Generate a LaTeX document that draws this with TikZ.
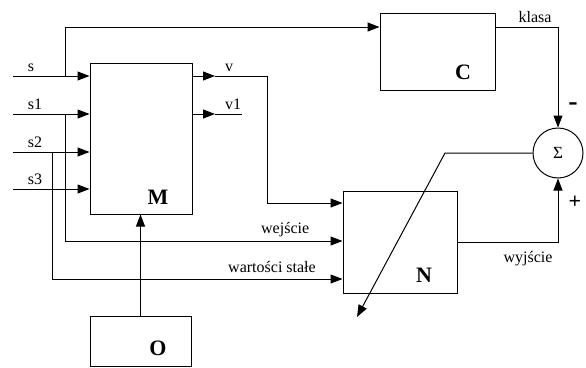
\documentclass[tikz,border=0pt]{standalone}
\usepackage{fontspec}
\setmainfont{Liberation Serif}
\usetikzlibrary{arrows.meta, positioning}

\begin{document}
\begin{tikzpicture}[x=1pt, y=-1pt, line width=1pt,
  every node/.style={font=\fontsize{16}{18}\selectfont},
  block/.style={draw, rectangle, inner sep=0pt},
  tag/.style={font=\fontsize{22}{24}\selectfont\bfseries},
  arr/.style={-{Triangle[length=12pt, width=9pt]}}]
\useasboundingbox (0,0) rectangle (586,367);
% Blocks M, C, N, O and the summing node
\node[block, minimum width=102pt, minimum height=151pt] (M) at (141,138.5) {};
\node[block, minimum width=115pt, minimum height=77pt] (C) at (437.5,51.5) {};
\node[block, minimum width=114pt, minimum height=102pt] (N) at (400,242) {};
\node[block, minimum width=101pt, minimum height=50pt] (O) at (140.5,341) {};
\node[draw, circle, minimum size=50pt, inner sep=0pt, font=\fontsize{17}{18}\selectfont] (S) at (558,153) {Σ};
\node[tag] (Mlab) at (158,197) {M};
\node[tag] (Clab) at (463,72) {C};
\node[tag] (Nlab) at (424,275) {N};
\node[tag] (Olab) at (158,348) {O};
% Inputs s, s1, s2, s3 of M
\foreach \y/\name in {76/s, 114/s1, 152/s2, 189/s3} {
  \coordinate (\name) at (13,\y);
  \draw[arr] (\name) -- (\name -| M.west);
  \node[anchor=base west] at (24,\y-5) {\name};
}
% s goes also to C
\draw[arr] (65,76) |- (C.west |- 0,27);
% Outputs v, v1 of M
\coordinate (v1end) at (242,114);
\draw[arr] (M.east |- 0,76) -- (215,76);
\draw[arr] (215,76) -- (267,76) |- (N.west |- 0,203);
\draw[arr] (M.east |- 0,114) -- (215,114);
\draw (215,114) -- (v1end);
\node[anchor=base] at (229,71) {v};
\node[anchor=base] at (233,109) {v1};
% s1 and s2 go to N
\draw[arr] (65,114) |- (N.west |- 0,241);
\node[anchor=base east] at (313,233) {wejście};
\draw[arr] (52,152) |- (N.west |- 0,279);
\node[anchor=base] at (272,272) {wartości stałe};
% O feeds M
\draw[arr] (O.north) -- (O.north |- M.south);
% C and N into the sum
\draw[arr] (C.east |- 0,27) -| (S.north);
\node[anchor=base] at (535,22) {klasa};
\draw[arr] (N.east) -| (S.south);
\node[anchor=base] at (528,262) {wyjście};
\node[tag, font=\fontsize{28}{28}\selectfont\bfseries] at (573,107) {-};
\node[tag] at (575,202) {+};
% Error fed back across N
\coordinate (errend) at (357,317);
\draw[arr] (S.west) -- (445,153) -- (errend);
\end{tikzpicture}
\end{document}
